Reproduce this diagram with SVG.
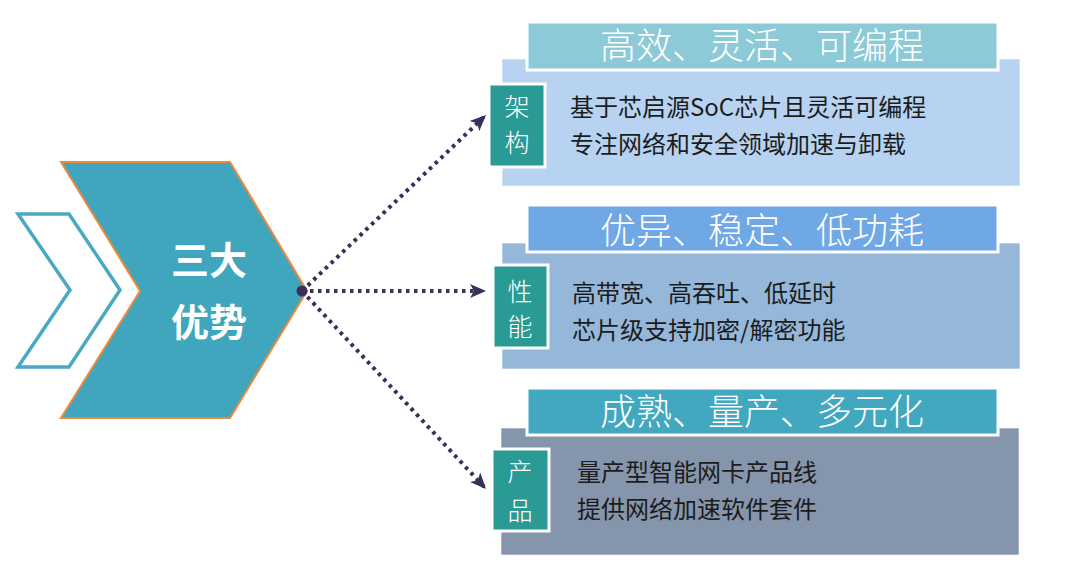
<svg xmlns="http://www.w3.org/2000/svg" width="1080" height="572" viewBox="0 0 1080 572">
<defs>
<style>
.cn{font-family:"Noto Sans CJK SC","Noto Sans",sans-serif;}
.hdr{font-size:36px;fill:#ffffff;text-anchor:middle;font-weight:300;}
.body{font-size:24px;fill:#1c1c1c;}
.lbl{font-size:25px;fill:#ffffff;text-anchor:middle;font-weight:300;}
.lblbox{fill:#2a9a94;stroke:#ffffff;stroke-width:3;}
.hbox{stroke:#ffffff;stroke-width:3;}
.bbox{stroke:#ffffff;stroke-opacity:0.6;stroke-width:1;}
.conn{fill:none;stroke:#3a2e5c;stroke-width:4;stroke-dasharray:3.5 4.5;marker-end:url(#arr);}
</style>
<marker id="arr" markerUnits="userSpaceOnUse" markerWidth="17" markerHeight="15" viewBox="0 0 17 15" refX="16" refY="7.5" orient="auto">
<path d="M0,0.5 L16,7.5 L0,14.5 L4,7.5 z" fill="#3a2e5c"/>
</marker>
</defs>
<rect width="1080" height="572" fill="#ffffff"/>

<g id="center-node">
<polygon points="18,214 69,214 120,290 69,367 18,367 70,290" fill="none" stroke="#4aa9c2" stroke-width="3.5"/>
<polygon points="61,162 230,162 307,291 230,418 61,418 140,291" fill="#40a6bd" stroke="#f0883a" stroke-width="2"/>
<text class="cn" x="209" y="274" font-size="38" font-weight="bold" fill="#ffffff" text-anchor="middle">三大</text>
<text class="cn" x="209" y="336" font-size="38" font-weight="bold" fill="#ffffff" text-anchor="middle">优势</text>
</g>

<g id="connectors">
<line class="conn" x1="302" y1="291" x2="486" y2="115"/>
<line class="conn" x1="302" y1="291" x2="486" y2="291"/>
<line class="conn" x1="302" y1="291" x2="486" y2="489"/>
<circle cx="302" cy="291" r="5.5" fill="#3a2e5c"/>
</g>

<g id="panel-architecture">
<rect class="bbox" x="502" y="59" width="518" height="127" fill="#b7d3f1"/>
<rect class="hbox" x="527" y="22" width="471" height="48" fill="#8dcad8"/>
<text class="cn hdr" x="762" y="59">高效、灵活、可编程</text>
<rect class="lblbox" x="489" y="84" width="56" height="83"/>
<text class="cn lbl" x="517" y="116">架</text>
<text class="cn lbl" x="517" y="152">构</text>
<text class="cn body" x="570" y="116">基于芯启源SoC芯片且灵活可编程</text>
<text class="cn body" x="570" y="153">专注网络和安全领域加速与卸载</text>
</g>

<g id="panel-performance">
<rect class="bbox" x="502" y="243" width="518" height="126" fill="#95b8da"/>
<rect class="hbox" x="527" y="205" width="471" height="47" fill="#70a8e6"/>
<text class="cn hdr" x="762" y="244">优异、稳定、低功耗</text>
<rect class="lblbox" x="493" y="265" width="55" height="83"/>
<text class="cn lbl" x="520" y="301">性</text>
<text class="cn lbl" x="520" y="336">能</text>
<text class="cn body" x="572" y="302">高带宽、高吞吐、低延时</text>
<text class="cn body" x="572" y="339">芯片级支持加密/解密功能</text>
</g>

<g id="panel-product">
<rect class="bbox" x="501" y="428" width="518" height="127" fill="#8595ab"/>
<rect class="hbox" x="527" y="388" width="471" height="47" fill="#42a8bf"/>
<text class="cn hdr" x="762" y="425">成熟、量产、多元化</text>
<rect class="lblbox" x="492" y="449" width="57" height="82"/>
<text class="cn lbl" x="520" y="481">产</text>
<text class="cn lbl" x="520" y="520">品</text>
<text class="cn body" x="577" y="481">量产型智能网卡产品线</text>
<text class="cn body" x="577" y="518">提供网络加速软件套件</text>
</g>
</svg>
